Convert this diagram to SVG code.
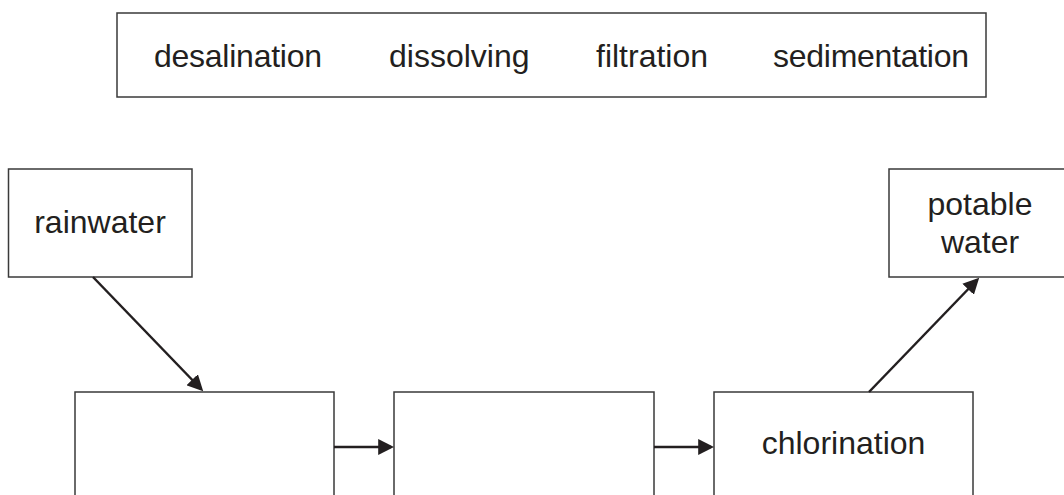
<svg xmlns="http://www.w3.org/2000/svg" width="1064" height="495" viewBox="0 0 1064 495">
<style>
.box{fill:#fff;stroke:#3a3a3a;stroke-width:1.5}
.t{font-family:"Liberation Sans",Arial,sans-serif;font-size:32px;fill:#231f20}
.m{text-anchor:middle}
.c{stroke:#231f20;stroke-width:2.5;fill:none}
</style>
<defs>
<marker id="ah" viewBox="0 0 10 10" refX="8" refY="5" markerWidth="16" markerHeight="16" markerUnits="userSpaceOnUse" orient="auto">
<path d="M0,0 L10,5 L0,10 z" fill="#231f20"/>
</marker>
</defs>
<g id="wordbox">
<rect class="box" x="117" y="13" width="869" height="84"/>
<text class="t" x="154" y="67" textLength="168">desalination</text>
<text class="t" x="389" y="67">dissolving</text>
<text class="t" x="596" y="67">filtration</text>
<text class="t" x="773" y="67" textLength="196">sedimentation</text>
</g>
<g id="rainwater">
<rect class="box" x="8.5" y="169" width="183.5" height="108"/>
<text class="t m" x="100" y="233">rainwater</text>
</g>
<g id="potable">
<rect class="box" x="889" y="169" width="180" height="108"/>
<text class="t m" x="980" y="215">potable</text>
<text class="t m" x="980" y="253">water</text>
</g>
<g id="step1">
<rect class="box" x="75" y="392" width="259" height="110"/>
</g>
<g id="step2">
<rect class="box" x="394" y="392" width="260" height="110"/>
</g>
<g id="chlorination">
<rect class="box" x="714" y="392" width="259" height="110"/>
<text class="t m" x="843.5" y="454">chlorination</text>
</g>
<g id="connectors">
<line class="c" x1="93" y1="277" x2="201" y2="389" marker-end="url(#ah)"/>
<line class="c" x1="334" y1="447" x2="391" y2="447" marker-end="url(#ah)"/>
<line class="c" x1="654" y1="447" x2="711" y2="447" marker-end="url(#ah)"/>
<line class="c" x1="869" y1="392" x2="977" y2="280" marker-end="url(#ah)"/>
</g>
</svg>
